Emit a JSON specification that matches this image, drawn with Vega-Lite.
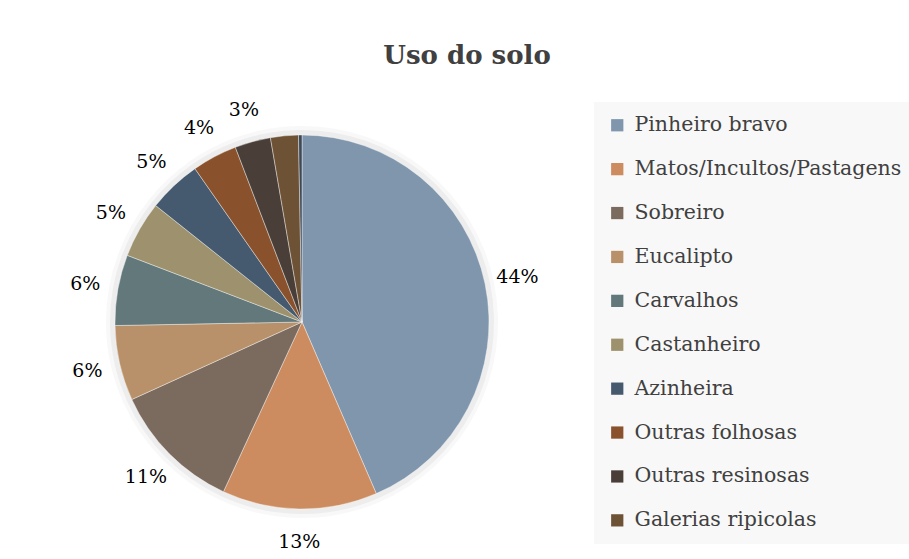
{
  "$schema": "https://vega.github.io/schema/vega-lite/v6.json",
  "autosize": "none",
  "width": 400,
  "height": 400,
  "padding": {"left": 102, "top": 122, "right": 407, "bottom": 37},
  "background": "white",
  "title": {
    "text": "Uso do solo",
    "font": "DejaVu Serif",
    "fontSize": 26,
    "fontWeight": "bold",
    "color": "#404040",
    "anchor": "middle",
    "frame": "group",
    "dx": 165,
    "offset": 24
  },
  "data": {
    "values": [
      {"categoria": "Pinheiro bravo", "valor": 43.5, "ord": 1, "label": "44%"},
      {"categoria": "Matos/Incultos/Pastagens", "valor": 13.4, "ord": 2, "label": "13%"},
      {"categoria": "Sobreiro", "valor": 11.3, "ord": 3, "label": "11%"},
      {"categoria": "Eucalipto", "valor": 6.5, "ord": 4, "label": "6%"},
      {"categoria": "Carvalhos", "valor": 6.1, "ord": 5, "label": "6%"},
      {"categoria": "Castanheiro", "valor": 4.9, "ord": 6, "label": "5%"},
      {"categoria": "Azinheira", "valor": 4.6, "ord": 7, "label": "5%"},
      {"categoria": "Outras folhosas", "valor": 3.9, "ord": 8, "label": "4%"},
      {"categoria": "Outras resinosas", "valor": 3.1, "ord": 9, "label": "3%"},
      {"categoria": "Galerias ripicolas", "valor": 2.4, "ord": 10, "label": ""},
      {"categoria": "Outros", "valor": 0.3, "ord": 11, "label": ""}
    ]
  },
  "encoding": {
    "theta": {"field": "valor", "type": "quantitative", "stack": true},
    "order": {"field": "ord", "type": "quantitative"}
  },
  "layer": [
    {
      "mark": {"type": "arc", "outerRadius": 196, "opacity": 0.05},
      "encoding": {"color": {"value": "#777777"}}
    },
    {
      "mark": {"type": "arc", "outerRadius": 192, "opacity": 0.08},
      "encoding": {"color": {"value": "#777777"}}
    },
    {
      "mark": {"type": "arc", "outerRadius": 187, "stroke": "#ffffff", "strokeWidth": 0.4},
      "encoding": {
        "color": {
          "field": "categoria",
          "type": "nominal",
          "scale": {
            "domain": ["Pinheiro bravo", "Matos/Incultos/Pastagens", "Sobreiro", "Eucalipto", "Carvalhos", "Castanheiro", "Azinheira", "Outras folhosas", "Outras resinosas", "Galerias ripicolas", "Outros"],
            "range": ["#7f96ad", "#cc8c5f", "#7b6a5e", "#b8916a", "#62787a", "#9d926d", "#455a6f", "#8a522c", "#4a3f38", "#6e5235", "#3c4a58"]
          },
          "legend": {
            "title": null,
            "orient": "none",
            "legendX": 492,
            "legendY": -20,
            "values": ["Pinheiro bravo", "Matos/Incultos/Pastagens", "Sobreiro", "Eucalipto", "Carvalhos", "Castanheiro", "Azinheira", "Outras folhosas", "Outras resinosas", "Galerias ripicolas"],
            "symbolType": "square",
            "symbolSize": 150,
            "symbolStrokeWidth": 0,
            "symbolOpacity": 1,
            "labelFont": "DejaVu Serif",
            "labelFontSize": 20.5,
            "labelColor": "#404040",
            "labelLimit": 400,
            "labelOffset": 7,
            "rowPadding": 22.9,
            "padding": 13,
            "fillColor": "#f8f8f8"
          }
        }
      }
    },
    {
      "mark": {"type": "text", "radius": 220, "font": "DejaVu Serif", "fontSize": 19, "color": "#000000"},
      "encoding": {
        "text": {"field": "label", "type": "nominal"}
      }
    }
  ],
  "config": {"view": {"stroke": null}}
}
